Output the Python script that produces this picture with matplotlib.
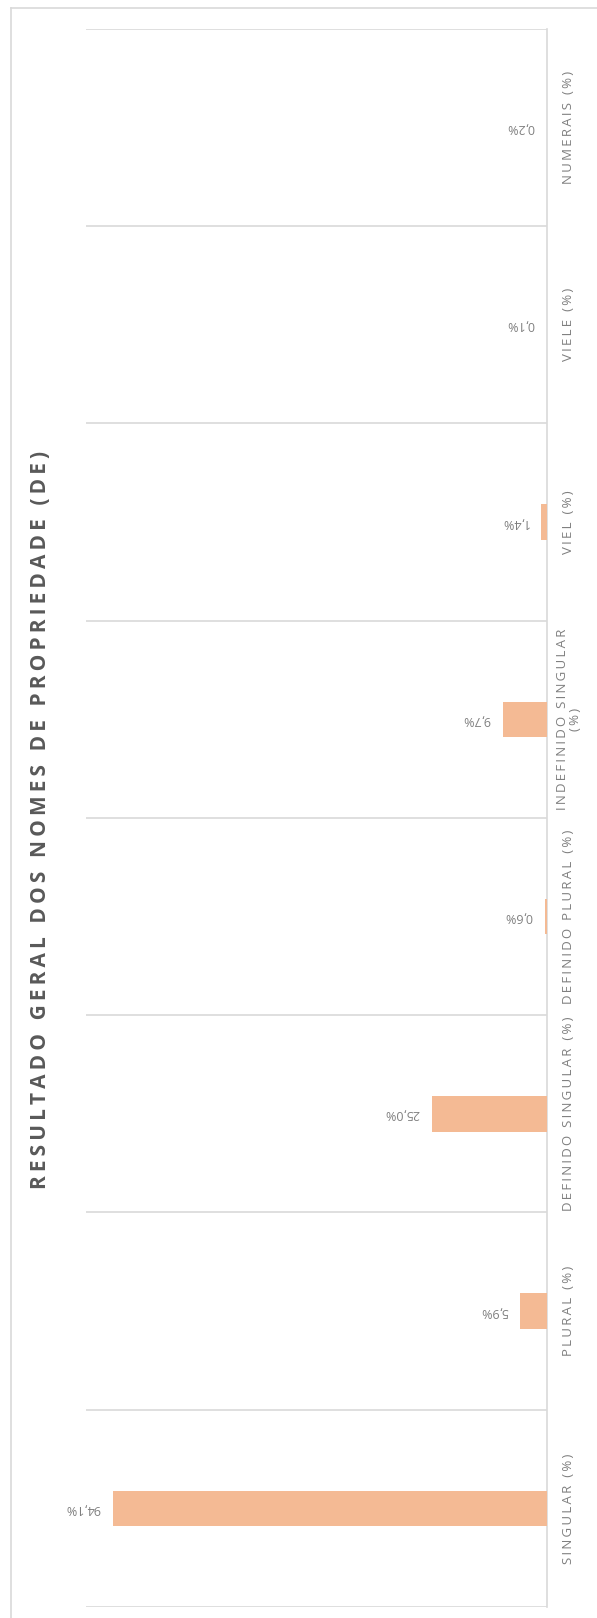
import matplotlib.pyplot as plt
from matplotlib.lines import Line2D
import numpy as np

plt.rcParams['font.family'] = ['Open Sans', 'DejaVu Sans']

categories = ['SINGULAR (%)', 'PLURAL (%)', 'DEFINIDO SINGULAR (%)', 'DEFINIDO PLURAL (%)',
              'INDEFINIDO SINGULAR\n(%)', 'VIEL (%)', 'VIELE (%)', 'NUMERAIS (%)']
values = [94.1, 5.9, 25.0, 0.6, 9.7, 1.4, 0.1, 0.2]
title = 'RESULTADO GERAL DOS NOMES DE PROPRIEDADE (DE)'

bar_color = '#F4BA94'
grid_color = '#D9D9D9'
text_color = '#7F7F7F'


def spaced(s, sep='\u200a'):
    # spread letters out a little, keep line breaks intact
    return '\n'.join(sep.join(line) for line in s.split('\n'))


fig = plt.figure(figsize=(5.97, 16.18), dpi=100)
ax = fig.add_axes([0.1434, 0.0068, 0.917 - 0.1434, 0.9821 - 0.0068])

y = np.arange(len(categories))
bars = ax.barh(y, values, height=0.18, color=bar_color, zorder=3)

ax.set_xlim(100, 0)
ax.set_ylim(-0.5, len(categories) - 0.5)

# category separators
ax.set_yticks(np.arange(len(categories) + 1) - 0.5, minor=True)
ax.grid(which='minor', axis='y', color=grid_color, linewidth=1.2, zorder=0)
ax.tick_params(axis='y', which='minor', length=0)

ax.yaxis.tick_right()
ax.set_yticks(y)
ax.set_yticklabels([spaced(c, '\u2009') for c in categories], rotation=90, va='center', ha='center',
                   fontsize=9.5, color=text_color, linespacing=1.0)
ax.tick_params(axis='y', which='major', length=0, pad=15.5)
ax.set_xticks([])

for side in ['top', 'bottom', 'left']:
    ax.spines[side].set_visible(False)
ax.spines['right'].set_color(grid_color)
ax.spines['right'].set_linewidth(1.2)

for bar, v in zip(bars, values):
    ax.annotate(f'{v:.1f}%'.replace('.', ','), xy=(v, bar.get_y() + bar.get_height() / 2),
                xytext=(-9, 0), textcoords='offset points', rotation=180,
                ha='right', va='center', fontsize=9, color=text_color)

fig.text(0.068, 0.493, spaced(title, '\u2009'), rotation=90, ha='center', va='center',
         fontsize=15, fontweight='bold', color='#595959')

# chart frame
fig.add_artist(Line2D([11 / 597, 11 / 597], [0, 1 - 8 / 1618], color=grid_color, linewidth=1.2))
fig.add_artist(Line2D([11 / 597, 1], [1 - 8 / 1618, 1 - 8 / 1618], color=grid_color, linewidth=1.2))

fig.savefig('out.png', dpi=100, facecolor='white')
